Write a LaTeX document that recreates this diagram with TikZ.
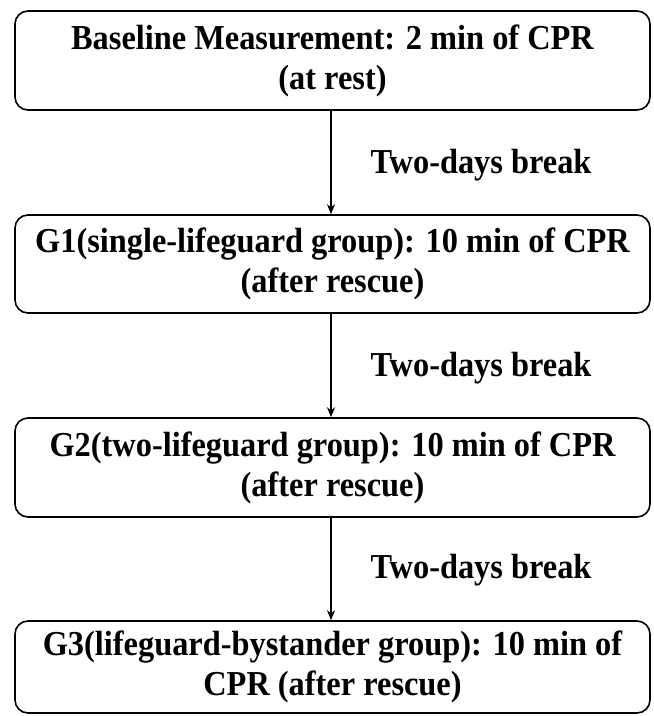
\documentclass[tikz,border=0pt]{standalone}
\usepackage{fontspec}
\setmainfont{Liberation Serif}[FakeStretch=0.925]
\usetikzlibrary{arrows.meta}
\begin{document}
\begin{tikzpicture}[x=1pt,y=1pt,
  stagebox/.style={draw, line width=1.6pt, rounded corners=13pt, minimum width=635pt,
    align=center, inner sep=0pt, font=\fontsize{35}{40}\selectfont\bfseries},
  breaklabel/.style={inner sep=0pt, font=\fontsize{35}{40}\selectfont\bfseries},
  flow/.style={line width=1.3pt, -{Stealth[length=10pt,width=8pt]}}]
\useasboundingbox (0,0) rectangle (654,-716);
\node[stagebox, minimum height=99pt] (b1) at (332.5,-60.5) {Baseline Measurement: 2 min of CPR\\(at rest)};
\node[stagebox, minimum height=98pt] (b2) at (332.5,-264) {G1(single-lifeguard group): 10 min of CPR\\(after rescue)};
\node[stagebox, minimum height=99pt] (b3) at (332.5,-467.5) {G2(two-lifeguard group): 10 min of CPR\\(after rescue)};
\node[stagebox, minimum height=92pt] (b4) at (332.5,-667) {G3(lifeguard-bystander group): 10 min of\\CPR (after rescue)};
\node[breaklabel] (l1) at (481,-165) {Two-days break};
\node[breaklabel] (l2) at (481,-368) {Two-days break};
\node[breaklabel] (l3) at (481,-570) {Two-days break};
\draw[flow] (b1.south -| 331,0) -- (b2.north -| 331,0);
\draw[flow] (b2.south -| 331,0) -- (b3.north -| 331,0);
\draw[flow] (b3.south -| 331,0) -- (b4.north -| 331,0);
\end{tikzpicture}
\end{document}
